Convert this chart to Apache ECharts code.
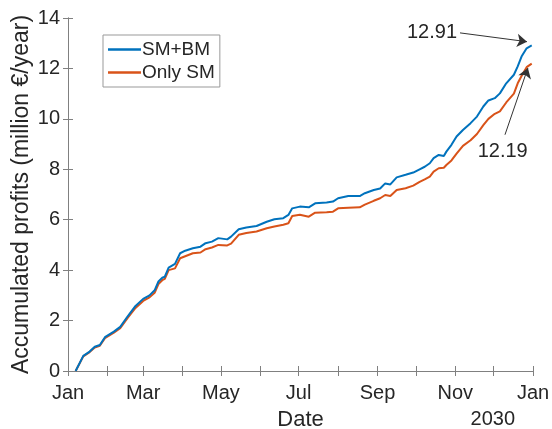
<!DOCTYPE html>
<html>
<head>
<meta charset="utf-8">
<script src="https://cdn.jsdelivr.net/npm/echarts@6/dist/echarts.min.js"></script>
<style>
html,body{margin:0;padding:0;background:#fff;}
#chart{width:552px;height:429px;}
</style>
</head>
<body>
<div id="chart"></div>
<script>
// Day of year (0 = Jan 1)
var days = [6,12,17,21,25,29,36,41,47,53,59,64,68,71,74,76,79,84,88,92,98,104,108,113,118,125,128,134,140,148,156,162,169,173,176,182,189,194,203,208,212,220,229,233,240,245,249,253,258,265,271,276,280,284,287,291,295,297,301,305,310,316,321,326,330,335,339,344,350,353,356,360,364];
var smBm = [0,0.6,0.77,0.96,1.03,1.34,1.56,1.75,2.18,2.58,2.86,3.0,3.2,3.55,3.7,3.74,4.1,4.25,4.67,4.77,4.87,4.93,5.07,5.13,5.27,5.22,5.33,5.62,5.69,5.75,5.92,6.02,6.06,6.19,6.45,6.52,6.49,6.65,6.68,6.72,6.85,6.94,6.94,7.05,7.18,7.24,7.44,7.40,7.68,7.78,7.87,8.0,8.1,8.24,8.44,8.57,8.53,8.70,8.97,9.3,9.56,9.83,10.09,10.49,10.73,10.82,11.01,11.41,11.75,12.08,12.47,12.8,12.91];
var onlySm = [0,0.58,0.75,0.93,1.0,1.3,1.52,1.7,2.12,2.5,2.78,2.92,3.1,3.45,3.6,3.65,4.0,4.07,4.47,4.55,4.67,4.7,4.83,4.9,5.0,4.98,5.05,5.4,5.47,5.53,5.66,5.73,5.8,5.86,6.15,6.2,6.12,6.28,6.3,6.32,6.45,6.47,6.49,6.6,6.75,6.85,6.98,6.94,7.18,7.25,7.35,7.5,7.6,7.71,7.91,8.04,8.06,8.17,8.35,8.62,8.93,9.15,9.4,9.75,10.0,10.2,10.3,10.65,11.0,11.41,11.7,12.05,12.19];
var seriesNames = ['SM+BM', 'Only SM'];
// month start days and names for ticks
var monthStarts = [0,31,59,90,120,151,181,212,243,273,304,334,365];
var labelDays = [0,59,120,181,243,304,365];
var labelNames = ['Jan','Mar','May','Jul','Sep','Nov','Jan'];
var yearLabel = '2030';
var finalSmBm = 12.91, finalOnlySm = 12.19;

var FONT = '"Liberation Sans", Arial, Helvetica, sans-serif';
var FS = 20;
var TXT = '#262626';
var AX = '#808080';

function pairs(xs, ys){ return xs.map(function(x,i){ return [x, ys[i]]; }); }

var chart = echarts.init(document.getElementById('chart'), null, {renderer:'canvas'});
var option = {
  animation: false,
  backgroundColor: '#fff',
  textStyle: {fontFamily: FONT},
  grid: {left: 68, top: 18, right: 19, bottom: 58, containLabel: false, outerBoundsMode: 'none'},
  legend: {
    orient: 'vertical', left: 103, top: 35,
    data: seriesNames,
    icon: 'rect', itemWidth: 33, itemHeight: 2.5, itemGap: 4,
    borderColor: '#999', borderWidth: 1, padding: [5, 5, 5, 5],
    backgroundColor: '#fff',
    textStyle: {fontSize: 19, color: TXT, fontFamily: FONT, padding: [0,0,0,-4]}
  },
  xAxis: [{
    type: 'value', min: 0, max: 365, position: 'bottom',
    name: 'Date', nameLocation: 'middle', nameGap: 38, nameMoveOverlap: false,
    nameTextStyle: {fontSize: 22, color: TXT, fontFamily: FONT},
    axisLine: {show: true, lineStyle: {color: AX, width: 1}},
    axisTick: {show: true, inside: true, length: 5, customValues: monthStarts, lineStyle: {color: AX}},
    axisLabel: {show: true, customValues: labelDays, margin: 12, fontSize: FS, color: TXT, fontFamily: FONT,
      formatter: function(v){ var i = labelDays.indexOf(Math.round(v)); return i >= 0 ? labelNames[i] : ''; }},
    splitLine: {show: false}
  }, {
    type: 'value', min: 0, max: 365, position: 'top',
    axisLine: {show: true, lineStyle: {color: AX, width: 1}},
    axisTick: {show: true, inside: true, length: 5, customValues: monthStarts, lineStyle: {color: AX}},
    axisLabel: {show: false}, splitLine: {show: false}
  }],
  yAxis: [{
    type: 'value', min: 0, max: 14, interval: 2, position: 'left',
    name: 'Accumulated profits (million €/year)', nameLocation: 'middle', nameGap: 35, nameRotate: 90,
    nameMoveOverlap: false,
    nameTextStyle: {fontSize: 23, color: TXT, fontFamily: FONT},
    axisLine: {show: true, lineStyle: {color: AX, width: 1}},
    axisTick: {show: true, inside: true, length: 5, lineStyle: {color: AX}},
    axisLabel: {margin: 8, fontSize: FS, color: TXT, fontFamily: FONT},
    splitLine: {show: false}
  }, {
    type: 'value', min: 0, max: 14, interval: 2, position: 'right',
    axisLine: {show: true, lineStyle: {color: AX, width: 1}},
    axisTick: {show: true, inside: true, length: 5, lineStyle: {color: AX}},
    axisLabel: {show: false}, splitLine: {show: false}
  }],
  graphic: [{
    type: 'text', right: 552 - 515, top: 409,
    style: {text: yearLabel, fill: TXT, font: FS + 'px ' + FONT}
  }],
  series: [{
    name: seriesNames[0], type: 'line', data: pairs(days, smBm),
    symbol: 'none', lineStyle: {color: '#0072BD', width: 2}, itemStyle: {color: '#0072BD'},
    z: 3,
    markLine: {
      silent: true, symbol: ['none', 'arrow'], symbolSize: 10,
      lineStyle: {color: '#333', width: 1, type: 'solid'},
      label: {show: true, position: 'start', distance: 3, formatter: String(finalSmBm), fontSize: FS, color: TXT, fontFamily: FONT},
      data: [[{coord: [307.7, 13.41]}, {coord: [360.3, 13.06]}]]
    }
  }, {
    name: seriesNames[1], type: 'line', data: pairs(days, onlySm),
    symbol: 'none', lineStyle: {color: '#D95319', width: 2}, itemStyle: {color: '#D95319'},
    z: 2,
    markLine: {
      silent: true, symbol: ['none', 'arrow'], symbolSize: 10,
      lineStyle: {color: '#333', width: 1, type: 'solid'},
      label: {show: true, position: 'start', distance: 7, formatter: String(finalOnlySm), fontSize: FS, color: TXT, fontFamily: FONT},
      data: [[{coord: [343, 9.37]}, {coord: [361, 12.02]}]]
    }
  }]
};
chart.setOption(option);
</script>
</body>
</html>
